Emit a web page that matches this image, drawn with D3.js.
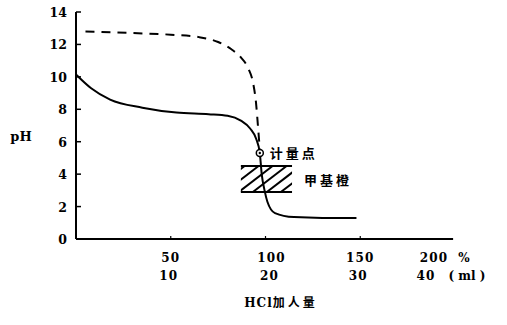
<!DOCTYPE html>
<html><head><meta charset="utf-8">
<script src="https://cdn.jsdelivr.net/npm/d3@7"></script>
<style>body{margin:0;background:#fff}svg{display:block}</style>
</head><body>
<svg id="c" width="507" height="325"></svg>
<script>
const yTicks = [0,2,4,6,8,10,12,14];
const xTicksPct = [50,100,150,200];
const xTicksMl = [10,20,30,40];
const solidPct = [0, 8, 18, 35, 53, 70, 80, 87, 92, 95, 97, 98, 99.5, 101, 105, 115, 130, 148];
const solidPH  = [10.15, 9.3, 8.6, 8.1, 7.8, 7.7, 7.6, 7.3, 6.8, 6.2, 5.3, 4.0, 3.0, 2.3, 1.6, 1.35, 1.3, 1.3];
const dashPct = [5, 30, 50, 65, 75, 82, 87, 91, 93.5, 95, 96, 97];
const dashPH  = [12.8, 12.7, 12.6, 12.45, 12.15, 11.7, 11.2, 10.5, 9.6, 8.4, 7.0, 5.5];
const eqPoint = {pct: 97, ph: 5.3, label: "计量点"};
const indicator = {pct0: 87, pct1: 114, ph0: 2.9, ph1: 4.5, label: "甲基橙"};

const svg = d3.select("#c");
const x = d3.scaleLinear().domain([0,200]).range([76,455]);
const y = d3.scaleLinear().domain([0,14]).range([239,12]);
const serif = "'DejaVu Serif','Liberation Serif',serif";
const cjk = "'Noto Sans CJK SC',sans-serif";

// axes
svg.append("line").attr("x1",x(0)).attr("x2",x(0)).attr("y1",y(0)).attr("y2",y(14))
  .attr("stroke","#000").attr("stroke-width",2);
svg.append("line").attr("x1",x(0)).attr("x2",x(199)).attr("y1",y(0)).attr("y2",y(0))
  .attr("stroke","#000").attr("stroke-width",2);
svg.selectAll(".yt").data(yTicks).join("line")
  .attr("x1",x(0)).attr("x2",x(0)+5).attr("y1",d=>y(d)).attr("y2",d=>y(d))
  .attr("stroke","#000").attr("stroke-width",1.5);
svg.selectAll(".ytl").data(yTicks).join("text")
  .attr("x",x(0)-9).attr("y",d=>y(d)+5).attr("text-anchor","end")
  .attr("font-family",serif).attr("font-weight","bold").attr("font-size",12.5).text(d=>d);
svg.selectAll(".xt").data(xTicksPct.slice(0,3)).join("line")
  .attr("x1",d=>x(d)).attr("x2",d=>x(d)).attr("y1",y(0)).attr("y2",y(0)-3)
  .attr("stroke","#000").attr("stroke-width",1.2);
const off = [0,6,0,-21];
svg.selectAll(".xl1").data(xTicksPct).join("text")
  .attr("x",(d,i)=>x(d)+off[i]).attr("y",262).attr("text-anchor","middle")
  .attr("font-family",serif).attr("font-weight","bold").attr("font-size",12).attr("letter-spacing",1.2).text(d=>d);
const off2 = [-2,4,-2,-29];
svg.selectAll(".xl2").data(xTicksMl).join("text")
  .attr("x",(d,i)=>x(xTicksPct[i])+off2[i]).attr("y",280).attr("text-anchor","middle")
  .attr("font-family",serif).attr("font-weight","bold").attr("font-size",12).attr("letter-spacing",1.2).text(d=>d);
svg.append("text").attr("x",464).attr("y",262).attr("text-anchor","middle")
  .attr("font-family",serif).attr("font-weight","bold").attr("font-size",12).text("%");
svg.append("text").attr("x",467).attr("y",280).attr("text-anchor","middle")
  .attr("font-family",serif).attr("font-weight","bold").attr("font-size",12).text("( ml )");
svg.append("text").attr("x",281).attr("y",307).attr("text-anchor","middle")
  .attr("font-family",serif).attr("font-weight","bold").attr("font-size",12).attr("letter-spacing",1)
  .text("HCl").append("tspan").attr("font-family",cjk).attr("letter-spacing",3).text("加人量");
svg.append("text").attr("x",21).attr("y",141).attr("text-anchor","middle")
  .attr("font-family",serif).attr("font-weight","bold").attr("font-size",13).text("pH");

// indicator box
const bx0 = x(indicator.pct0), bx1 = x(indicator.pct1), by0 = y(indicator.ph1), by1 = y(indicator.ph0);
svg.append("line").attr("x1",bx0).attr("x2",bx1).attr("y1",by0).attr("y2",by0).attr("stroke","#000").attr("stroke-width",2);
svg.append("line").attr("x1",bx0).attr("x2",bx1).attr("y1",by1).attr("y2",by1).attr("stroke","#000").attr("stroke-width",2);
const g = svg.append("g");
const clipId = "clipbox";
svg.append("clipPath").attr("id",clipId).append("rect").attr("x",bx0).attr("y",by0).attr("width",bx1-bx0).attr("height",by1-by0);
const hatch = d3.range(-30, 60, 14);
g.attr("clip-path",`url(#${clipId})`).selectAll("line").data(hatch).join("line")
  .attr("x1",d=>bx0+d).attr("y1",by1).attr("x2",d=>bx0+d+(by1-by0)*1.3).attr("y2",by0)
  .attr("stroke","#000").attr("stroke-width",2);

// curves
const line = d3.line().x(d=>x(d[0])).y(d=>y(d[1])).curve(d3.curveMonotoneX);
svg.append("path").attr("d",line(solidPct.map((p,i)=>[p,solidPH[i]])))
  .attr("fill","none").attr("stroke","#000").attr("stroke-width",2);
svg.append("path").attr("d",line(dashPct.map((p,i)=>[p,dashPH[i]])))
  .attr("fill","none").attr("stroke","#000").attr("stroke-width",2).attr("stroke-dasharray","9,7");

// equivalence point
svg.append("circle").attr("cx",x(eqPoint.pct)).attr("cy",y(eqPoint.ph)).attr("r",3.5)
  .attr("fill","#fff").attr("stroke","#000").attr("stroke-width",1.5);
svg.append("circle").attr("cx",x(eqPoint.pct)).attr("cy",y(eqPoint.ph)).attr("r",1.2).attr("fill","#000");
svg.append("text").attr("x",x(eqPoint.pct)+10).attr("y",y(eqPoint.ph)+5)
  .attr("font-family",cjk).attr("font-weight","bold").attr("font-size",13).attr("letter-spacing",3).text(eqPoint.label);
svg.append("text").attr("x",bx1+12).attr("y",y((indicator.ph0+indicator.ph1)/2)+6)
  .attr("font-family",cjk).attr("font-weight","bold").attr("font-size",13).attr("letter-spacing",3).text(indicator.label);
</script>
</body></html>
